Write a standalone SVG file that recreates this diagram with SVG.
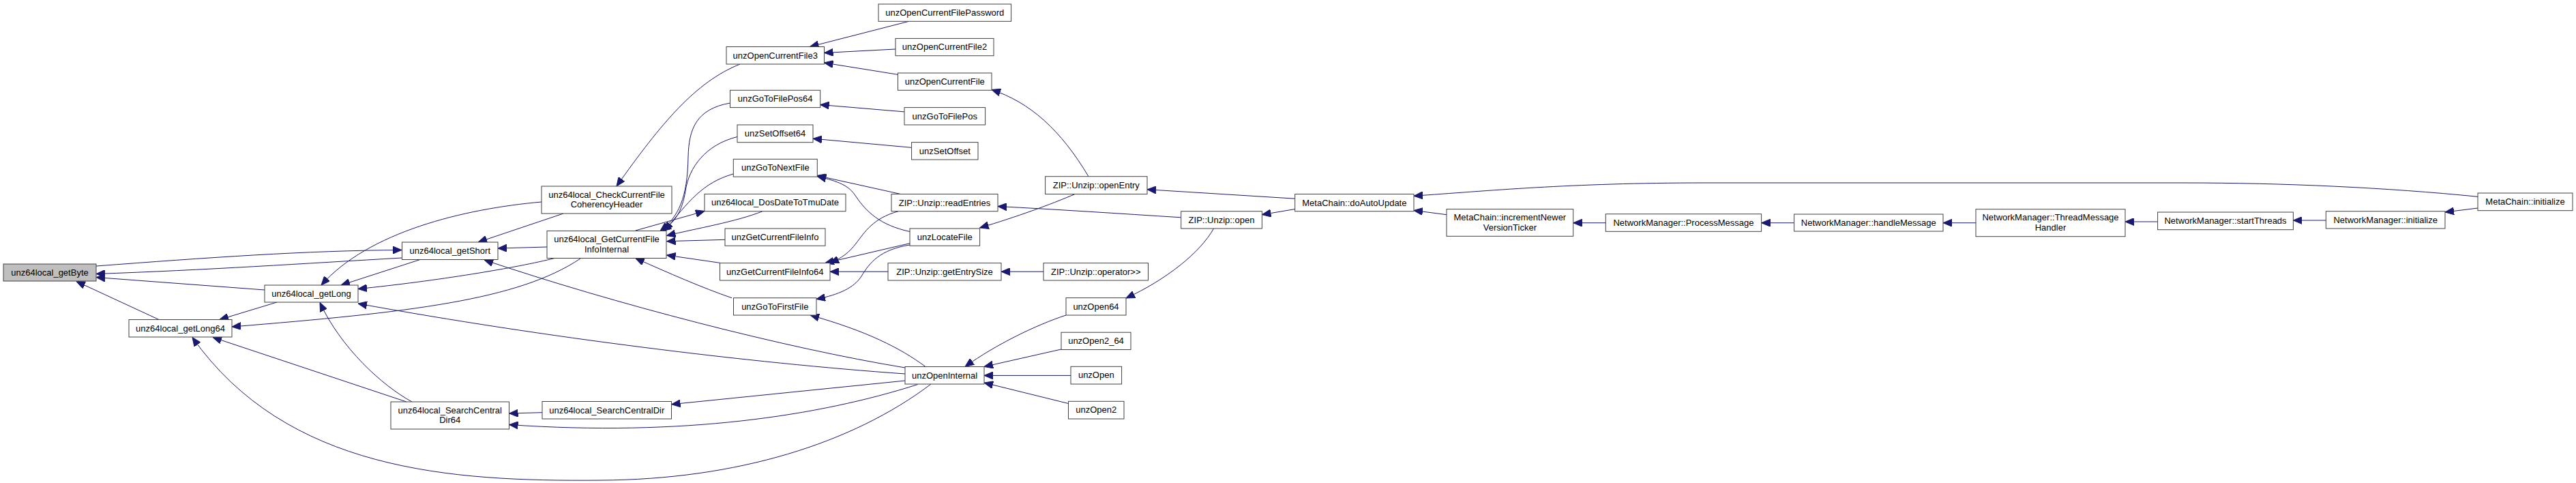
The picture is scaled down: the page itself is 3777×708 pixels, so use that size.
<svg xmlns="http://www.w3.org/2000/svg" width="3777" height="708" viewBox="0 0 3777 708">
<style>
.n rect{fill:#ffffff;stroke:#404040;stroke-width:1}
.root rect{fill:#bfbfbf;stroke:#404040;stroke-width:1}
text{font-family:"Liberation Sans",Arial,sans-serif;font-size:13px;text-anchor:middle;fill:#000}
#edges path{fill:none;stroke:#191970;stroke-width:1;marker-end:url(#arr)}
</style>
<defs>
<marker id="arr" markerUnits="userSpaceOnUse" markerWidth="13" markerHeight="11" refX="13" refY="5.5" orient="auto">
<path d="M0,0 L13,5.5 L0,11 Z" fill="#191970" stroke="#191970" stroke-width="1"/>
</marker>
</defs>
<rect width="3777" height="708" fill="#ffffff"/>
<g id="edges">
<path d="M141,390 C300,378 450,367 589,366.5"/>
<path d="M589.5,378 C450,386 300,396 141,401.5"/>
<path d="M388,425 L141,406.5"/>
<path d="M233,468.5 L112,412.5"/>
<path d="M794,296 C680,306 540,340 471,418"/>
<path d="M616,380.5 L500,418"/>
<path d="M813,378.5 C760,392 640,412 525,423.5"/>
<path d="M1327,548 C1100,532 800,495 525,445"/>
<path d="M851,379 C760,440 600,458 340,479"/>
<path d="M406,443 L322,468.5"/>
<path d="M604,589 C560,565 500,510 469,443.5"/>
<path d="M596,589 L312,494.5"/>
<path d="M1365,563 C1250,650 1080,703 880,704 C660,706 420,690 282,494.5"/>
<path d="M826,313 L701,355"/>
<path d="M802.5,362 L730,364"/>
<path d="M1327,539 C1150,510 900,445 710,381"/>
<path d="M1085,94 C1020,120 970,180 904,273"/>
<path d="M1070.5,151 C1020,160 1010,190 1009,230 C1008,290 995,318 968,338.5"/>
<path d="M1081,200.5 C1035,212 1010,245 1005,280 C1000,310 990,325 971,338.5"/>
<path d="M1075,255 C1030,268 1010,295 974,338.5"/>
<path d="M931.7,338 L1033,309.5"/>
<path d="M1118,309.7 C1080,325 1020,335 977.5,345.5"/>
<path d="M1063,351.3 L977.5,353.7"/>
<path d="M1056.7,385.5 L977.5,374"/>
<path d="M1073,436.7 C1030,422 980,400 931.7,378.5"/>
<path d="M795,604.7 L746.5,606"/>
<path d="M1327,558 L984.5,592.7"/>
<path d="M1345.7,563.5 C1200,610 1000,640 746.5,622.5"/>
<path d="M1332.6,31.3 L1187.5,68.5"/>
<path d="M1313,72 L1208.5,77.5"/>
<path d="M1316.5,109.3 L1208.5,92"/>
<path d="M1596,258.7 C1555,190 1510,150 1454,131.5"/>
<path d="M1326,163.9 L1202.7,153.5"/>
<path d="M1336.6,216.3 L1192,203.2"/>
<path d="M1320.5,284.5 L1198,257.4"/>
<path d="M1334,339.5 C1290,330 1270,310 1255,288 C1245,272 1230,266 1198.3,258.5"/>
<path d="M1317,309.7 C1280,320 1268,340 1255,357 C1245,370 1235,378 1217,385.6"/>
<path d="M1334,356.7 L1209.8,385.6"/>
<path d="M1334,359 C1290,366 1275,385 1263,405 C1252,422 1230,432 1197,438.5"/>
<path d="M1302,398.2 L1217,398.2"/>
<path d="M1530,398.2 L1468,398.2"/>
<path d="M1576,284.5 C1540,300 1490,318 1436.6,334"/>
<path d="M1731.7,318.8 C1640,313 1550,307 1463,302.5"/>
<path d="M1898.7,291.2 L1682,277.7"/>
<path d="M1779.5,335 C1760,370 1710,410 1651,437"/>
<path d="M1357,537.5 C1320,510 1270,485 1188,462"/>
<path d="M1563,462 C1520,476 1460,505 1415,537.5"/>
<path d="M1556,512 L1443,537.5"/>
<path d="M1570,550.4 L1443,550.4"/>
<path d="M1566.5,591.5 L1443,561"/>
<path d="M1898.7,306.5 L1850.4,314.7"/>
<path d="M2121,314.7 L2073,308.4"/>
<path d="M3633,288.3 C3500,275 3350,268 3200,268 L2500,268 C2300,268 2180,280 2073,287.2"/>
<path d="M2354.3,326.7 L2306.7,326.7"/>
<path d="M2630.6,326.7 L2582.6,326.7"/>
<path d="M2897,326.7 L2849,326.7"/>
<path d="M3163.6,325 L3116,325"/>
<path d="M3410.4,323 L3362.4,323"/>
<path d="M3633,305 L3585,311"/>
</g>
<g id="getByte" class="root"><rect x="5" y="387" width="136" height="25"/><text x="73" y="404">unz64local_getByte</text></g>
<g id="getLong64" class="n"><rect x="189" y="468.5" width="151" height="25.5"/><text x="264.5" y="485.5">unz64local_getLong64</text></g>
<g id="getLong" class="n"><rect x="388" y="418" width="137" height="25"/><text x="456.5" y="435">unz64local_getLong</text></g>
<g id="getShort" class="n"><rect x="589.5" y="355" width="140.5" height="25.5"/><text x="659.75" y="372">unz64local_getShort</text></g>
<g id="searchCentralDir64" class="n"><rect x="573" y="589" width="173.5" height="40"/><text x="659.75" y="605.5">unz64local_SearchCentral</text><text x="659.75" y="620">Dir64</text></g>
<g id="checkCoherency" class="n"><rect x="794" y="273" width="191" height="40"/><text x="889.5" y="289.5">unz64local_CheckCurrentFile</text><text x="889.5" y="304">CoherencyHeader</text></g>
<g id="getCurrentFileInfoInternal" class="n"><rect x="802" y="338.5" width="175" height="40"/><text x="889.5" y="355">unz64local_GetCurrentFile</text><text x="889.5" y="369.5">InfoInternal</text></g>
<g id="searchCentralDir" class="n"><rect x="795" y="588.5" width="189.5" height="25.5"/><text x="889.75" y="605.5">unz64local_SearchCentralDir</text></g>
<g id="unzOpenCurrentFile3" class="n"><rect x="1065" y="68.5" width="143.5" height="25.5"/><text x="1136.75" y="85.5">unzOpenCurrentFile3</text></g>
<g id="unzGoToFilePos64" class="n"><rect x="1070.5" y="132.3" width="132.2" height="25.3"/><text x="1136.6" y="149.3">unzGoToFilePos64</text></g>
<g id="unzSetOffset64" class="n"><rect x="1081" y="183" width="111" height="25.7"/><text x="1136.5" y="200">unzSetOffset64</text></g>
<g id="unzGoToNextFile" class="n"><rect x="1075.3" y="233.3" width="123" height="25.8"/><text x="1136.8" y="250.3">unzGoToNextFile</text></g>
<g id="dosDateToTmuDate" class="n"><rect x="1033" y="284.4" width="207" height="25.3"/><text x="1136.5" y="301.4">unz64local_DosDateToTmuDate</text></g>
<g id="unzGetCurrentFileInfo" class="n"><rect x="1063" y="335" width="147" height="25.3"/><text x="1136.5" y="352">unzGetCurrentFileInfo</text></g>
<g id="unzGetCurrentFileInfo64" class="n"><rect x="1055.5" y="385.6" width="161.5" height="25.4"/><text x="1136.25" y="402.6">unzGetCurrentFileInfo64</text></g>
<g id="unzGoToFirstFile" class="n"><rect x="1075.5" y="436.7" width="121.5" height="25.3"/><text x="1136.25" y="453.7">unzGoToFirstFile</text></g>
<g id="unzOpenCurrentFilePassword" class="n"><rect x="1288" y="6" width="194.6" height="25.3"/><text x="1385.3" y="23">unzOpenCurrentFilePassword</text></g>
<g id="unzOpenCurrentFile2" class="n"><rect x="1313" y="56.4" width="144" height="25.3"/><text x="1385" y="73.4">unzOpenCurrentFile2</text></g>
<g id="unzOpenCurrentFile" class="n"><rect x="1316.5" y="107" width="137.5" height="25.3"/><text x="1385.25" y="124">unzOpenCurrentFile</text></g>
<g id="unzGoToFilePos" class="n"><rect x="1326" y="157.6" width="118.6" height="25.4"/><text x="1385.3" y="174.6">unzGoToFilePos</text></g>
<g id="unzSetOffset" class="n"><rect x="1336.6" y="208.6" width="97.4" height="25.4"/><text x="1385.3" y="225.6">unzSetOffset</text></g>
<g id="readEntries" class="n"><rect x="1307" y="284.5" width="156" height="25.2"/><text x="1385" y="301.5">ZIP::Unzip::readEntries</text></g>
<g id="unzLocateFile" class="n"><rect x="1334" y="335" width="102.6" height="25.3"/><text x="1385.3" y="352">unzLocateFile</text></g>
<g id="getEntrySize" class="n"><rect x="1302" y="385.6" width="166" height="25.4"/><text x="1385" y="402.6">ZIP::Unzip::getEntrySize</text></g>
<g id="unzOpenInternal" class="n"><rect x="1327" y="537.5" width="116" height="25.5"/><text x="1385" y="554.5">unzOpenInternal</text></g>
<g id="openEntry" class="n"><rect x="1532.6" y="258.7" width="149.4" height="25.8"/><text x="1607.3" y="275.7">ZIP::Unzip::openEntry</text></g>
<g id="operatorShift" class="n"><rect x="1530" y="385.6" width="153.5" height="25.4"/><text x="1606.75" y="402.6">ZIP::Unzip::operator&gt;&gt;</text></g>
<g id="unzOpen64" class="n"><rect x="1563" y="436.6" width="88" height="25.4"/><text x="1607" y="453.6">unzOpen64</text></g>
<g id="unzOpen2_64" class="n"><rect x="1556" y="487.2" width="102" height="25.3"/><text x="1607" y="504.2">unzOpen2_64</text></g>
<g id="unzOpen" class="n"><rect x="1570" y="537.3" width="74.6" height="25.7"/><text x="1607.3" y="554.3">unzOpen</text></g>
<g id="unzOpen2" class="n"><rect x="1566.5" y="588.3" width="81.5" height="25.7"/><text x="1607.25" y="605.3">unzOpen2</text></g>
<g id="unzipOpen" class="n"><rect x="1731.7" y="309.7" width="118.7" height="25.3"/><text x="1791" y="326.7">ZIP::Unzip::open</text></g>
<g id="doAutoUpdate" class="n"><rect x="1898.7" y="284.5" width="174.3" height="25.2"/><text x="1985.85" y="301.5">MetaChain::doAutoUpdate</text></g>
<g id="incrementNewerVersionTicker" class="n"><rect x="2121" y="306.6" width="185.7" height="39.7"/><text x="2213.85" y="323">MetaChain::incrementNewer</text><text x="2213.85" y="337.6">VersionTicker</text></g>
<g id="processMessage" class="n"><rect x="2354.3" y="313.7" width="228.3" height="25.6"/><text x="2468.45" y="330.7">NetworkManager::ProcessMessage</text></g>
<g id="handleMessage" class="n"><rect x="2630.6" y="314" width="218.4" height="25"/><text x="2739.8" y="331">NetworkManager::handleMessage</text></g>
<g id="threadMessageHandler" class="n"><rect x="2897" y="306.7" width="219" height="40"/><text x="3006.5" y="323.2">NetworkManager::ThreadMessage</text><text x="3006.5" y="337.7">Handler</text></g>
<g id="startThreads" class="n"><rect x="3163.6" y="311" width="198.8" height="25.7"/><text x="3263" y="328">NetworkManager::startThreads</text></g>
<g id="networkManagerInitialize" class="n"><rect x="3410.4" y="309.7" width="174.6" height="25.3"/><text x="3497.7" y="326.7">NetworkManager::initialize</text></g>
<g id="metaChainInitialize" class="n"><rect x="3633" y="283" width="139" height="25.7"/><text x="3702.5" y="300">MetaChain::initialize</text></g>
</svg>
